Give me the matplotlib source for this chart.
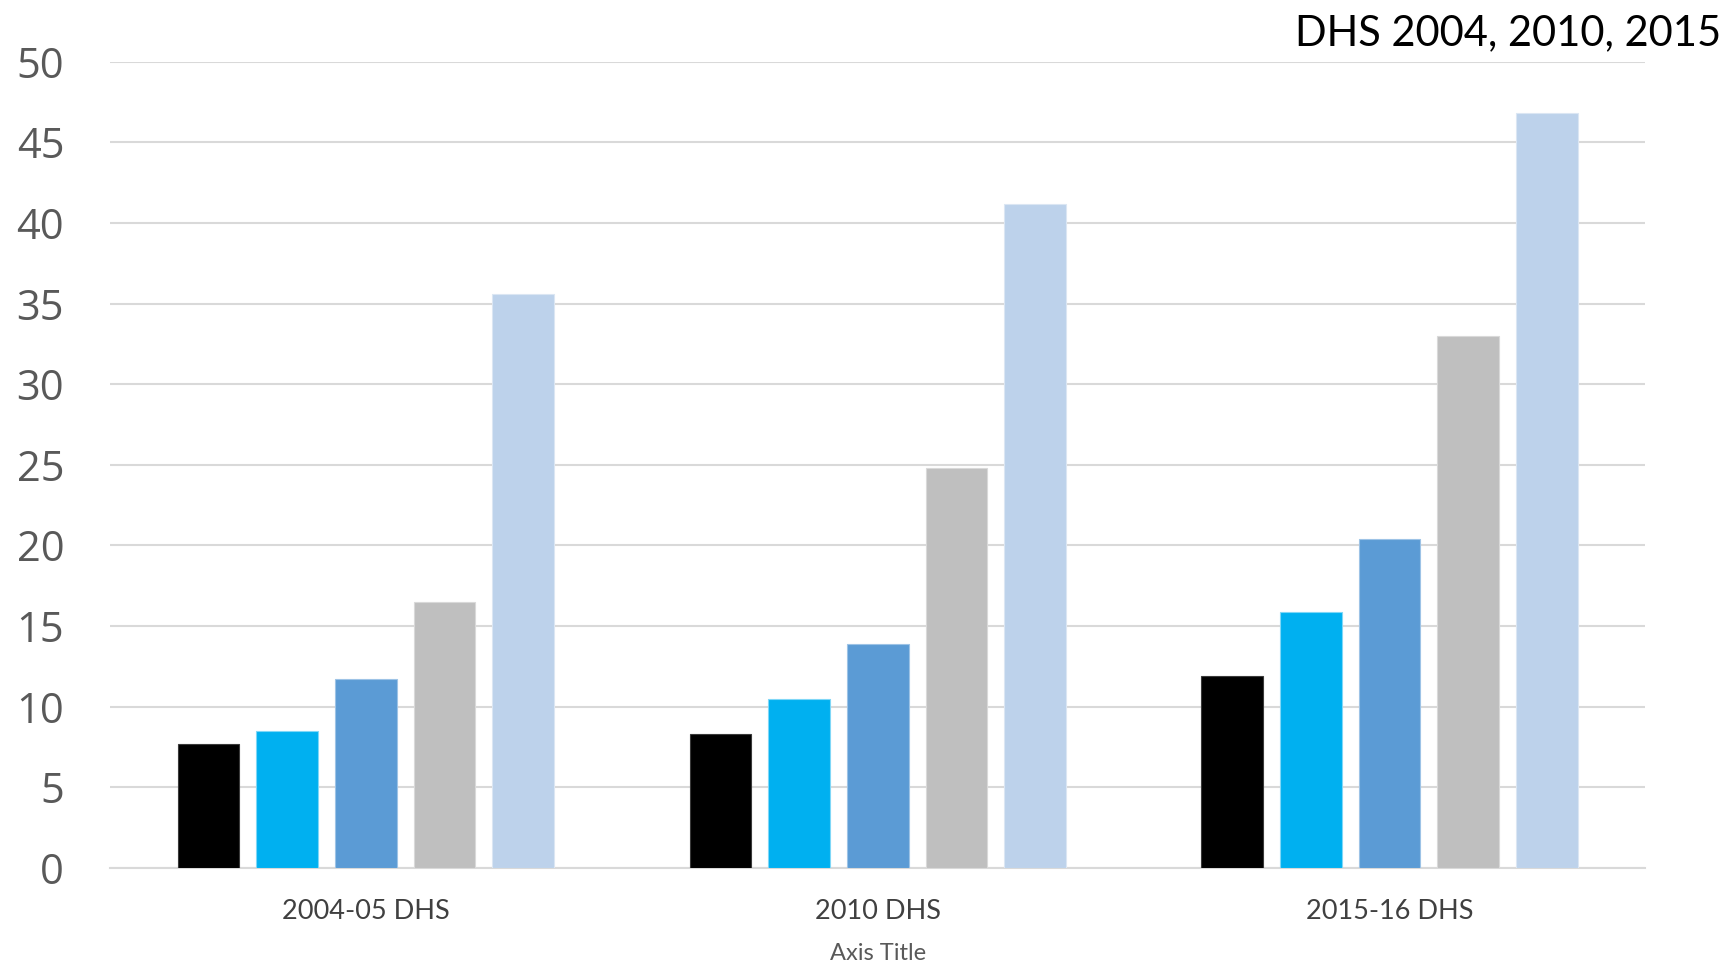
import matplotlib
matplotlib.use("Agg")
import matplotlib.pyplot as plt
import numpy as np

# Survey rounds and the five series shown for each
categories = ["2004-05 DHS", "2010 DHS", "2015-16 DHS"]
series_a = [7.7, 8.3, 11.9]
series_b = [8.5, 10.5, 15.9]
series_c = [11.7, 13.9, 20.4]
series_d = [16.5, 24.8, 33.0]
series_e = [35.6, 41.2, 46.8]
y_ticks = [0, 5, 10, 15, 20, 25, 30, 35, 40, 45, 50]
title_text = "DHS 2004, 2010, 2015"
x_title = "Axis Title"

series = [series_a, series_b, series_c, series_d, series_e]
colors = ["#000000", "#00B0F0", "#5B9BD5", "#BFBFBF", "#BDD2EB"]
edges = ["#3a3a3a", "#7fd7f7", "#9dc3e6", "#d9d9d9", "#dbe6f3"]

fig = plt.figure(figsize=(17.27, 9.64), dpi=100)
ax = fig.add_axes([0.0637, 0.0996, 0.8891, 0.8364])

x = np.arange(len(categories))
step = 0.1537
width = 0.1205
for j, (vals, c, ec) in enumerate(zip(series, colors, edges)):
    ax.bar(x + (j - 2) * step, vals, width=width, color=c, edgecolor=ec,
           linewidth=0.8, zorder=3)

ax.set_xlim(-0.5, 2.5)
ax.set_ylim(0, 50)
ax.set_yticks(y_ticks)
ax.set_yticklabels([str(t) for t in y_ticks], fontsize=30, color="#595959",
                   family="Open Sans")
ax.set_xticks(x)
ax.set_xticklabels(categories, fontsize=19.5, color="#404040", family="Lato")
ax.tick_params(axis="both", length=0)
ax.tick_params(axis="y", pad=33)
ax.tick_params(axis="x", pad=22)
for lbl in ax.get_yticklabels():
    lbl.set_horizontalalignment("right")

ax.grid(axis="y", color="#D9D9D9", linewidth=1.5, zorder=0)
for s in ["top", "right", "left"]:
    ax.spines[s].set_visible(False)
ax.spines["bottom"].set_color("#D9D9D9")
ax.spines["bottom"].set_linewidth(1.5)

fig.text(0.9965, 0.966, title_text, ha="right", va="center", fontsize=30,
         color="#000000", family="Lato")
ax.set_xlabel(x_title, fontsize=17, color="#595959", family="Lato", labelpad=14)

fig.savefig("out.png", dpi=100, facecolor="white")
